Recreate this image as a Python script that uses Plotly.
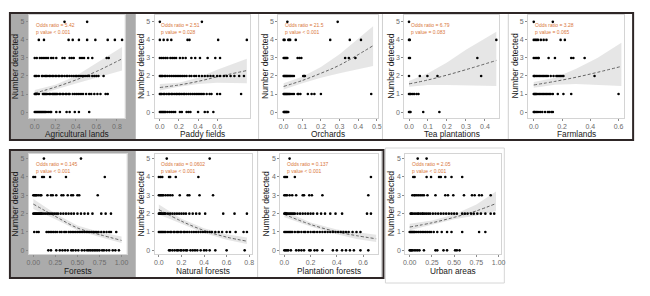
import plotly.graph_objects as go

# points: one list of x values per count level (index = number detected 0..5)
agri_pts = [
    [0.0, 0.01, 0.02, 0.03, 0.04, 0.05, 0.06, 0.07, 0.08, 0.09, 0.1, 0.11, 0.13, 0.15, 0.16, 0.21, 0.245, 0.31, 0.34, 0.39, 0.43, 0.53],
    [0.0, 0.01, 0.02, 0.04, 0.08, 0.09, 0.1, 0.11, 0.12, 0.14, 0.15, 0.17, 0.18, 0.19, 0.2, 0.21, 0.22, 0.24, 0.25, 0.27, 0.28, 0.3, 0.31, 0.33, 0.34, 0.37, 0.39, 0.41, 0.43, 0.45, 0.47, 0.5, 0.53, 0.55, 0.58, 0.61, 0.64, 0.69, 0.71],
    [0.0, 0.01, 0.02, 0.04, 0.07, 0.08, 0.1, 0.11, 0.12, 0.14, 0.15, 0.17, 0.18, 0.2, 0.21, 0.23, 0.24, 0.26, 0.27, 0.29, 0.31, 0.32, 0.34, 0.36, 0.38, 0.4, 0.41, 0.43, 0.45, 0.47, 0.49, 0.51, 0.53, 0.56, 0.58, 0.6, 0.62, 0.67],
    [0.0, 0.02, 0.05, 0.07, 0.09, 0.11, 0.13, 0.16, 0.18, 0.21, 0.27, 0.29, 0.34, 0.36, 0.38, 0.44, 0.46, 0.48, 0.52, 0.56, 0.7, 0.72],
    [0.04, 0.09, 0.33, 0.37, 0.43, 0.51, 0.59, 0.71, 0.78, 0.85],
    [0.29, 0.51],
]
paddy_pts = [
    [0.0, 0.01, 0.02, 0.03, 0.04, 0.05, 0.06, 0.08, 0.1, 0.12, 0.14, 0.16, 0.21, 0.23, 0.28, 0.3, 0.32, 0.4, 0.47, 0.5, 0.56],
    [0.0, 0.01, 0.02, 0.04, 0.05, 0.07, 0.09, 0.1, 0.12, 0.13, 0.15, 0.17, 0.18, 0.2, 0.21, 0.23, 0.25, 0.26, 0.28, 0.3, 0.32, 0.34, 0.36, 0.38, 0.4, 0.42, 0.44, 0.46, 0.49, 0.52, 0.54, 0.6, 0.63, 0.85],
    [0.0, 0.01, 0.02, 0.03, 0.05, 0.06, 0.08, 0.1, 0.12, 0.14, 0.16, 0.18, 0.2, 0.22, 0.24, 0.26, 0.28, 0.31, 0.33, 0.36, 0.38, 0.41, 0.44, 0.47, 0.5, 0.53, 0.56, 0.6, 0.63, 0.67, 0.7, 0.74, 0.78, 0.83, 0.88],
    [0.0, 0.02, 0.04, 0.06, 0.08, 0.11, 0.13, 0.15, 0.17, 0.21, 0.24, 0.27, 0.33, 0.37, 0.42, 0.5, 0.58, 0.63],
    [0.0, 0.04, 0.08, 0.12, 0.29, 0.31, 0.61, 0.91],
    [0.0, 0.44],
]
orch_pts = [
    [0.0, 0.003, 0.006, 0.01, 0.013, 0.016, 0.02, 0.025],
    [0.0, 0.004, 0.008, 0.012, 0.016, 0.02, 0.025, 0.03, 0.035, 0.045, 0.055, 0.075, 0.08, 0.09, 0.13, 0.15, 0.165, 0.2, 0.47],
    [0.0, 0.004, 0.008, 0.012, 0.016, 0.02, 0.025, 0.03, 0.035, 0.04, 0.047, 0.055, 0.105, 0.11, 0.114],
    [0.0, 0.005, 0.01, 0.015, 0.02, 0.075, 0.085, 0.095, 0.33, 0.35, 0.385],
    [0.0, 0.005, 0.025, 0.03, 0.035, 0.065, 0.25, 0.355, 0.415],
    [0.02, 0.29],
]
tea_pts = [
    [0.0, 0.004, 0.008, 0.075, 0.16],
    [0.0, 0.005, 0.01, 0.02, 0.028, 0.04, 0.05],
    [0.0, 0.057, 0.097, 0.15, 0.38],
    [0.0, 0.005, 0.36],
    [0.0, 0.004, 0.46],
    [0.0],
]
farm_pts = [
    [0.0, 0.005, 0.01, 0.02, 0.03, 0.045, 0.06, 0.08, 0.1, 0.11, 0.125, 0.135],
    [0.0, 0.005, 0.01, 0.015, 0.02, 0.03, 0.04, 0.05, 0.06, 0.07, 0.08, 0.09, 0.1, 0.11, 0.12, 0.135, 0.17, 0.21, 0.265, 0.6],
    [0.0, 0.005, 0.01, 0.02, 0.03, 0.04, 0.05, 0.06, 0.07, 0.08, 0.09, 0.1, 0.12, 0.14, 0.16, 0.17, 0.18, 0.19, 0.2, 0.21, 0.43],
    [0.0, 0.01, 0.02, 0.03, 0.035, 0.105, 0.15, 0.265, 0.28, 0.36],
    [0.0, 0.01, 0.02, 0.03, 0.05, 0.07, 0.09, 0.19, 0.22],
    [0.0, 0.135],
]
forest_pts = [
    [0.17, 0.2, 0.26, 0.3, 0.33, 0.36, 0.39, 0.43, 0.45, 0.48, 0.51, 0.55, 0.58, 0.61, 0.63, 0.65, 0.67, 0.69, 0.71, 0.73, 0.75, 0.78, 0.8, 0.83, 0.86, 0.9, 0.93, 0.97],
    [0.01, 0.04, 0.06, 0.15, 0.17, 0.19, 0.21, 0.23, 0.25, 0.27, 0.3, 0.32, 0.35, 0.37, 0.4, 0.42, 0.44, 0.46, 0.48, 0.5, 0.52, 0.54, 0.56, 0.58, 0.6, 0.62, 0.64, 0.66, 0.68, 0.7, 0.72, 0.74, 0.77, 0.8, 0.83, 0.86, 0.88, 0.94],
    [0.0, 0.01, 0.02, 0.03, 0.04, 0.05, 0.06, 0.07, 0.08, 0.09, 0.1, 0.12, 0.14, 0.16, 0.18, 0.2, 0.22, 0.24, 0.26, 0.28, 0.31, 0.34, 0.37, 0.4, 0.43, 0.46, 0.5, 0.54, 0.58, 0.62, 0.67, 0.77, 0.82, 0.88],
    [0.0, 0.01, 0.02, 0.03, 0.04, 0.06, 0.08, 0.09, 0.16, 0.2, 0.22, 0.26, 0.32, 0.34, 0.39, 0.43, 0.45, 0.5, 0.52, 0.73],
    [0.0, 0.02, 0.1, 0.12, 0.19, 0.37, 0.81],
    [0.12, 0.54],
]
natural_pts = [
    [0.09, 0.1, 0.12, 0.14, 0.16, 0.17, 0.19, 0.2, 0.22, 0.24, 0.25, 0.28, 0.3, 0.32, 0.34, 0.37, 0.4, 0.42, 0.45, 0.5, 0.6, 0.76],
    [0.0, 0.01, 0.02, 0.03, 0.04, 0.05, 0.06, 0.08, 0.1, 0.11, 0.13, 0.14, 0.16, 0.17, 0.19, 0.2, 0.22, 0.23, 0.25, 0.27, 0.29, 0.31, 0.33, 0.35, 0.37, 0.39, 0.41, 0.43, 0.45, 0.47, 0.5, 0.53, 0.56, 0.6, 0.63, 0.68, 0.75, 0.78],
    [0.0, 0.005, 0.01, 0.015, 0.02, 0.03, 0.04, 0.05, 0.06, 0.08, 0.1, 0.12, 0.14, 0.16, 0.18, 0.2, 0.22, 0.24, 0.27, 0.3, 0.33, 0.36, 0.41, 0.57, 0.67, 0.78],
    [0.0, 0.01, 0.02, 0.03, 0.04, 0.06, 0.08, 0.1, 0.12, 0.185, 0.255, 0.27, 0.36, 0.48],
    [0.0, 0.015, 0.03, 0.09, 0.1, 0.15, 0.35],
    [0.07, 0.45],
]
plant_pts = [
    [0.0, 0.01, 0.02, 0.03, 0.05, 0.09, 0.11, 0.13, 0.15, 0.19, 0.2, 0.23, 0.25, 0.29, 0.37, 0.4, 0.44, 0.47, 0.5, 0.53, 0.58, 0.64],
    [0.0, 0.01, 0.02, 0.03, 0.04, 0.05, 0.06, 0.08, 0.1, 0.11, 0.13, 0.15, 0.16, 0.18, 0.2, 0.22, 0.23, 0.25, 0.27, 0.29, 0.31, 0.33, 0.35, 0.37, 0.39, 0.41, 0.43, 0.45, 0.47, 0.49, 0.52, 0.55, 0.58],
    [0.0, 0.005, 0.01, 0.015, 0.02, 0.03, 0.04, 0.05, 0.06, 0.07, 0.08, 0.1, 0.12, 0.14, 0.16, 0.18, 0.2, 0.22, 0.25, 0.28, 0.31, 0.35, 0.39, 0.44, 0.63, 0.66],
    [0.0, 0.01, 0.02, 0.04, 0.06, 0.09, 0.14, 0.15, 0.19, 0.21, 0.29, 0.64],
    [0.0, 0.01, 0.02, 0.08, 0.66],
    [0.04],
]
urban_pts = [
    [0.0, 0.01, 0.02, 0.03, 0.05, 0.07, 0.09, 0.11, 0.16, 0.29, 0.31, 0.38, 0.42, 0.51, 0.53, 0.56],
    [0.0, 0.01, 0.02, 0.03, 0.04, 0.05, 0.06, 0.08, 0.1, 0.12, 0.14, 0.16, 0.18, 0.2, 0.22, 0.24, 0.27, 0.31, 0.36, 0.42, 0.47, 0.59, 0.78, 0.85],
    [0.01, 0.02, 0.03, 0.05, 0.07, 0.09, 0.1, 0.12, 0.14, 0.15, 0.17, 0.19, 0.21, 0.23, 0.26, 0.29, 0.32, 0.35, 0.38, 0.41, 0.44, 0.47, 0.5, 0.53, 0.59, 0.62, 0.65, 0.69, 0.72, 0.76, 0.8, 0.85, 0.91, 0.95],
    [0.03, 0.05, 0.06, 0.08, 0.1, 0.12, 0.14, 0.16, 0.2, 0.29, 0.4, 0.43, 0.49, 0.61, 0.7, 0.73, 0.78, 0.81, 0.91],
    [0.04, 0.055, 0.19, 0.24, 0.33, 0.35, 0.4, 0.47, 0.59],
    [0.09, 0.19],
]

# fitted curve: (x, fit, lower, upper)
agri_fit = [(0, 1.05, 0.9, 1.22), (0.2, 1.38, 1.25, 1.52), (0.4, 1.78, 1.58, 2.0), (0.6, 2.25, 1.9, 2.7), (0.85, 2.95, 2.3, 3.6)]
paddy_fit = [(0, 1.36, 1.2, 1.55), (0.2, 1.5, 1.4, 1.62), (0.4, 1.7, 1.55, 1.9), (0.6, 1.95, 1.62, 2.35), (0.91, 2.3, 1.6, 2.95)]
orch_fit = [(0, 1.42, 1.25, 1.6), (0.1, 1.75, 1.6, 1.95), (0.2, 2.15, 1.9, 2.5), (0.3, 2.6, 2.15, 3.2), (0.48, 3.68, 2.55, 4.75)]
tea_fit = [(0, 1.56, 1.4, 1.72), (0.1, 1.78, 1.5, 2.15), (0.2, 2.05, 1.5, 2.75), (0.3, 2.35, 1.48, 3.45), (0.46, 2.86, 1.45, 4.45)]
farm_fit = [(0, 1.5, 1.35, 1.66), (0.15, 1.7, 1.52, 1.9), (0.3, 1.93, 1.55, 2.4), (0.45, 2.2, 1.5, 3.0), (0.62, 2.53, 1.44, 3.84)]
forest_fit = [(0, 2.52, 2.25, 2.8), (0.25, 1.85, 1.7, 2.0), (0.5, 1.22, 1.1, 1.35), (0.75, 0.86, 0.72, 1.0), (1.0, 0.54, 0.4, 0.75)]
natural_fit = [(0, 2.22, 1.95, 2.5), (0.2, 1.59, 1.45, 1.72), (0.4, 1.08, 0.95, 1.2), (0.6, 0.72, 0.58, 0.88), (0.78, 0.5, 0.35, 0.7)]
plant_fit = [(0, 1.96, 1.8, 2.15), (0.2, 1.41, 1.3, 1.52), (0.4, 1.01, 0.88, 1.14), (0.55, 0.8, 0.62, 0.98), (0.7, 0.63, 0.45, 0.85)]
urban_fit = [(0, 1.27, 1.1, 1.45), (0.25, 1.5, 1.4, 1.62), (0.5, 1.8, 1.7, 1.95), (0.75, 2.15, 1.9, 2.5), (0.97, 2.55, 2.15, 3.2)]

titles = ["Agricultural lands", "Paddy fields", "Orchards", "Tea plantations", "Farmlands",
          "Forests", "Natural forests", "Plantation forests", "Urban areas"]
odds = ["5.42", "2.51", "21.5", "6.79", "3.28", "0.145", "0.0602", "0.137", "2.05"]
pvals = ["&lt; 0.001", "= 0.028", "&lt; 0.001", "= 0.083", "= 0.065",
         "&lt; 0.001", "&lt; 0.001", "&lt; 0.001", "&lt; 0.001"]
xticks = [[0, 0.2, 0.4, 0.6, 0.8], [0, 0.2, 0.4, 0.6], [0, 0.1, 0.2, 0.3, 0.4, 0.5],
          [0, 0.1, 0.2, 0.3, 0.4], [0, 0.2, 0.4, 0.6],
          [0, 0.25, 0.5, 0.75, 1.0], [0, 0.2, 0.4, 0.6, 0.8], [0, 0.2, 0.4, 0.6],
          [0, 0.25, 0.5, 0.75, 1.0]]
tickfmt = [".1f"] * 5 + [".2f", ".1f", ".1f", ".2f"]

points = [agri_pts, paddy_pts, orch_pts, tea_pts, farm_pts, forest_pts, natural_pts, plant_pts, urban_pts]
fits = [agri_fit, paddy_fit, orch_fit, tea_fit, farm_fit, forest_fit, natural_fit, plant_fit, urban_fit]

# layout geometry, in pixels of the 650x296 canvas
W, H = 650, 296
xpix = [(27, 124), (154, 250), (279, 380), (406, 502), (531, 628),
        (27, 126), (154, 252), (281, 379), (407, 504)]
xranges = [(-0.058, 0.877), (-0.055, 0.94), (-0.028, 0.509), (-0.025, 0.476), (-0.04, 0.64),
           (-0.052, 1.06), (-0.038, 0.822), (-0.03, 0.71), (-0.05, 1.03)]
top_y, bot_y = (15, 118), (154, 254)

FONT = "Liberation Sans, Arial, sans-serif"
ORANGE = "#D9773A"
TICK = "#6b6b6b"

fig = go.Figure()
layout = dict(width=W, height=H, margin=dict(l=0, r=0, t=0, b=0),
              paper_bgcolor="white", plot_bgcolor="white", showlegend=False,
              font=dict(family=FONT))
annotations = []

for i in range(9):
    n = i + 1
    xa, ya = f"x{n}" if n > 1 else "x", f"y{n}" if n > 1 else "y"
    ypx = top_y if i < 5 else bot_y
    yr = (-0.33, 5.38) if i < 5 else (-0.2, 5.25)
    x0, x1 = xpix[i]

    fit = fits[i]
    fx = [r[0] for r in fit]
    fig.add_trace(go.Scatter(x=fx, y=[r[2] for r in fit], mode="lines", line=dict(width=0),
                             xaxis=xa, yaxis=ya, hoverinfo="skip"))
    fig.add_trace(go.Scatter(x=fx, y=[r[3] for r in fit], mode="lines", line=dict(width=0),
                             fill="tonexty", fillcolor="rgba(195,195,195,0.42)",
                             xaxis=xa, yaxis=ya, hoverinfo="skip"))
    fig.add_trace(go.Scatter(x=fx, y=[r[1] for r in fit], mode="lines",
                             line=dict(color="#555555", width=0.9, dash="3px,2px", shape="spline"),
                             xaxis=xa, yaxis=ya))
    px, py = [], []
    for level, xs in enumerate(points[i]):
        px += xs
        py += [level] * len(xs)
    fig.add_trace(go.Scatter(x=px, y=py, mode="markers", xaxis=xa, yaxis=ya,
                             marker=dict(color="black", size=2.6)))

    axis_common = dict(showgrid=False, zeroline=False, showline=True, linecolor="#d4d4d4",
                       linewidth=1, mirror=True, ticks="outside", ticklen=2, tickcolor="#8a8a8a",
                       tickfont=dict(size=7, color=TICK, family=FONT))
    layout[f"xaxis{n}"] = dict(axis_common, domain=[x0 / W, x1 / W], anchor=ya,
                               range=list(xranges[i]), tickvals=xticks[i], tickformat=tickfmt[i])
    layout[f"yaxis{n}"] = dict(axis_common, domain=[1 - ypx[1] / H, 1 - ypx[0] / H], anchor=xa,
                               range=list(yr), tickvals=[0, 1, 2, 3, 4, 5])

    annotations.append(dict(xref=f"{xa} domain", yref=f"{ya} domain", x=0.05, y=0.955,
                            xanchor="left", yanchor="top", align="left", showarrow=False,
                            text=f"Odds ratio = {odds[i]}<br>p value {pvals[i]}",
                            font=dict(size=5, color=ORANGE, family=FONT)))
    annotations.append(dict(xref=f"{xa} domain", yref=f"{ya} domain", x=0, xshift=-14, y=0.5,
                            xanchor="center", yanchor="middle", textangle=-90, showarrow=False,
                            text="Number detected", font=dict(size=8.5, color="#1a1a1a", family=FONT)))
    ty = 134 if i < 5 else 270.5
    annotations.append(dict(xref="paper", yref="paper", x=(x0 + x1) / 2 / W, y=1 - ty / H,
                            xanchor="center", yanchor="middle", showarrow=False,
                            text=titles[i], font=dict(size=8.3, color="#1a1a1a", family=FONT)))


def rect(x0, y0, x1, y1, **kw):
    return dict(type="rect", xref="paper", yref="paper", x0=x0 / W, x1=x1 / W,
                y0=1 - y1 / H, y1=1 - y0 / H, layer="below", **kw)


def vline(x, y0, y1):
    return dict(type="line", xref="paper", yref="paper", x0=x / W, x1=x / W,
                y0=1 - y1 / H, y1=1 - y0 / H, layer="below", line=dict(color="#cfcfcf", width=1))


shapes = [
    rect(9, 13, 135, 139, fillcolor="#ababab", line=dict(width=0)),
    rect(9, 150, 135, 277, fillcolor="#ababab", line=dict(width=0)),
    rect(xpix[0][0], top_y[0], xpix[0][1], top_y[1], fillcolor="white", line=dict(width=0)),
    rect(xpix[5][0], bot_y[0], xpix[5][1], bot_y[1], fillcolor="white", line=dict(width=0)),
    vline(259, 13, 139), vline(384, 13, 139), vline(511, 13, 139),
    vline(258, 150, 277), vline(383, 150, 277),
    rect(387, 148, 507, 283, line=dict(color="#d6d6d6", width=1)),
    rect(8, 13, 637, 140, line=dict(color="#2e2626", width=2)),
    rect(8, 150, 385, 278, line=dict(color="#2e2626", width=2)),
]

layout["annotations"] = annotations
layout["shapes"] = shapes
fig.update_layout(**layout)
fig.write_html("out.html", config={"displayModeBar": False},
               post_script="document.body.style.margin='0px';")
